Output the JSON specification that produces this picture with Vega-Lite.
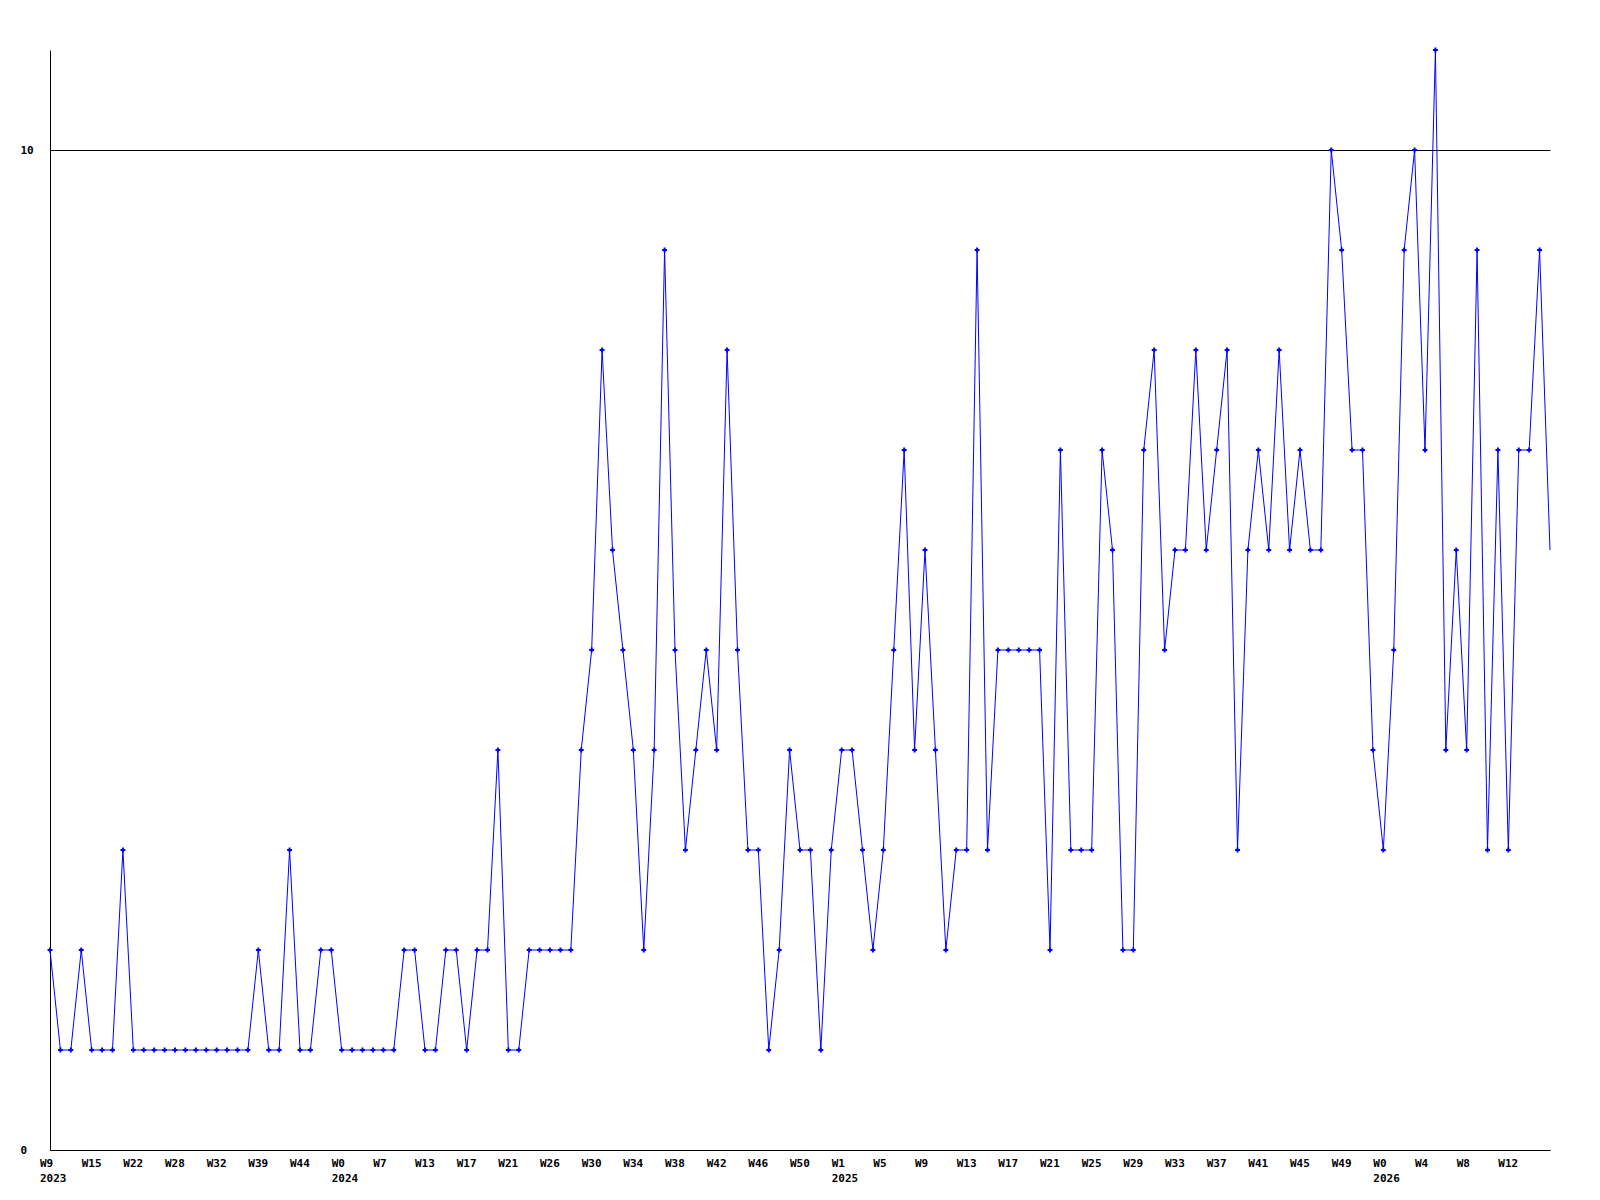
{
  "$schema": "https://vega.github.io/schema/vega-lite/v6.json",
  "width": 1500,
  "height": 1100,
  "autosize": {"type": "none"},
  "padding": {"left": 50, "top": 50, "right": 50, "bottom": 50},
  "background": "white",
  "config": {
    "view": {"stroke": null},
    "axis": {
      "labelFont": "DejaVu Sans Mono",
      "labelFontWeight": "bold",
      "labelFontSize": 11,
      "labelColor": "black",
      "domainColor": "black",
      "domainWidth": 1,
      "ticks": false,
      "tickSize": 0
    }
  },
  "data": {
    "values": [
      {"i": 0, "v": 2}, {"i": 1, "v": 1}, {"i": 2, "v": 1}, {"i": 3, "v": 2}, {"i": 4, "v": 1},
      {"i": 5, "v": 1}, {"i": 6, "v": 1}, {"i": 7, "v": 3}, {"i": 8, "v": 1}, {"i": 9, "v": 1},
      {"i": 10, "v": 1}, {"i": 11, "v": 1}, {"i": 12, "v": 1}, {"i": 13, "v": 1}, {"i": 14, "v": 1},
      {"i": 15, "v": 1}, {"i": 16, "v": 1}, {"i": 17, "v": 1}, {"i": 18, "v": 1}, {"i": 19, "v": 1},
      {"i": 20, "v": 2}, {"i": 21, "v": 1}, {"i": 22, "v": 1}, {"i": 23, "v": 3}, {"i": 24, "v": 1},
      {"i": 25, "v": 1}, {"i": 26, "v": 2}, {"i": 27, "v": 2}, {"i": 28, "v": 1}, {"i": 29, "v": 1},
      {"i": 30, "v": 1}, {"i": 31, "v": 1}, {"i": 32, "v": 1}, {"i": 33, "v": 1}, {"i": 34, "v": 2},
      {"i": 35, "v": 2}, {"i": 36, "v": 1}, {"i": 37, "v": 1}, {"i": 38, "v": 2}, {"i": 39, "v": 2},
      {"i": 40, "v": 1}, {"i": 41, "v": 2}, {"i": 42, "v": 2}, {"i": 43, "v": 4}, {"i": 44, "v": 1},
      {"i": 45, "v": 1}, {"i": 46, "v": 2}, {"i": 47, "v": 2}, {"i": 48, "v": 2}, {"i": 49, "v": 2},
      {"i": 50, "v": 2}, {"i": 51, "v": 4}, {"i": 52, "v": 5}, {"i": 53, "v": 8}, {"i": 54, "v": 6},
      {"i": 55, "v": 5}, {"i": 56, "v": 4}, {"i": 57, "v": 2}, {"i": 58, "v": 4}, {"i": 59, "v": 9},
      {"i": 60, "v": 5}, {"i": 61, "v": 3}, {"i": 62, "v": 4}, {"i": 63, "v": 5}, {"i": 64, "v": 4},
      {"i": 65, "v": 8}, {"i": 66, "v": 5}, {"i": 67, "v": 3}, {"i": 68, "v": 3}, {"i": 69, "v": 1},
      {"i": 70, "v": 2}, {"i": 71, "v": 4}, {"i": 72, "v": 3}, {"i": 73, "v": 3}, {"i": 74, "v": 1},
      {"i": 75, "v": 3}, {"i": 76, "v": 4}, {"i": 77, "v": 4}, {"i": 78, "v": 3}, {"i": 79, "v": 2},
      {"i": 80, "v": 3}, {"i": 81, "v": 5}, {"i": 82, "v": 7}, {"i": 83, "v": 4}, {"i": 84, "v": 6},
      {"i": 85, "v": 4}, {"i": 86, "v": 2}, {"i": 87, "v": 3}, {"i": 88, "v": 3}, {"i": 89, "v": 9},
      {"i": 90, "v": 3}, {"i": 91, "v": 5}, {"i": 92, "v": 5}, {"i": 93, "v": 5}, {"i": 94, "v": 5},
      {"i": 95, "v": 5}, {"i": 96, "v": 2}, {"i": 97, "v": 7}, {"i": 98, "v": 3}, {"i": 99, "v": 3},
      {"i": 100, "v": 3}, {"i": 101, "v": 7}, {"i": 102, "v": 6}, {"i": 103, "v": 2}, {"i": 104, "v": 2},
      {"i": 105, "v": 7}, {"i": 106, "v": 8}, {"i": 107, "v": 5}, {"i": 108, "v": 6}, {"i": 109, "v": 6},
      {"i": 110, "v": 8}, {"i": 111, "v": 6}, {"i": 112, "v": 7}, {"i": 113, "v": 8}, {"i": 114, "v": 3},
      {"i": 115, "v": 6}, {"i": 116, "v": 7}, {"i": 117, "v": 6}, {"i": 118, "v": 8}, {"i": 119, "v": 6},
      {"i": 120, "v": 7}, {"i": 121, "v": 6}, {"i": 122, "v": 6}, {"i": 123, "v": 10}, {"i": 124, "v": 9},
      {"i": 125, "v": 7}, {"i": 126, "v": 7}, {"i": 127, "v": 4}, {"i": 128, "v": 3}, {"i": 129, "v": 5},
      {"i": 130, "v": 9}, {"i": 131, "v": 10}, {"i": 132, "v": 7}, {"i": 133, "v": 11}, {"i": 134, "v": 4},
      {"i": 135, "v": 6}, {"i": 136, "v": 4}, {"i": 137, "v": 9}, {"i": 138, "v": 3}, {"i": 139, "v": 7},
      {"i": 140, "v": 3}, {"i": 141, "v": 7}, {"i": 142, "v": 7}, {"i": 143, "v": 9}, {"i": 144, "v": 6}
    ]
  },
  "encoding": {
    "x": {
      "field": "i",
      "type": "quantitative",
      "scale": {"domain": [0, 144], "nice": false, "zero": false},
      "axis": {
        "title": null,
        "grid": false,
        "values": [0, 4, 8, 12, 16, 20, 24, 28, 32, 36, 40, 44, 48, 52, 56, 60, 64, 68, 72, 76, 80, 84, 88, 92, 96, 100, 104, 108, 112, 116, 120, 124, 128, 132, 136, 140],
        "labelAlign": "left",
        "labelBaseline": "top",
        "labelOffset": -10.5,
        "labelPadding": 7,
        "labelLineHeight": 15,
        "labelOverlap": false,
        "labelFlush": false,
        "labelBound": false,
        "labelExpr": "[['W9','2023'],['W15'],['W22'],['W28'],['W32'],['W39'],['W44'],['W0','2024'],['W7'],['W13'],['W17'],['W21'],['W26'],['W30'],['W34'],['W38'],['W42'],['W46'],['W50'],['W1','2025'],['W5'],['W9'],['W13'],['W17'],['W21'],['W25'],['W29'],['W33'],['W37'],['W41'],['W45'],['W49'],['W0','2026'],['W4'],['W8'],['W12']][round(datum.value/4)]"
      }
    },
    "y": {
      "field": "v",
      "type": "quantitative",
      "scale": {"domain": [0, 11], "nice": false, "zero": true},
      "axis": {
        "title": null,
        "values": [0, 10],
        "grid": true,
        "gridColor": "black",
        "gridOpacity": 1,
        "gridWidth": 1,
        "labelAlign": "left",
        "labelBaseline": "middle",
        "labelPadding": 30
      }
    }
  },
  "layer": [
    {
      "mark": {"type": "line", "color": "#0000ff", "strokeWidth": 1, "interpolate": "linear"}
    },
    {
      "transform": [{"filter": "datum.i < 144"}],
      "mark": {"type": "point", "shape": "cross", "filled": true, "color": "#0000ff", "size": 24, "opacity": 1}
    }
  ]
}
